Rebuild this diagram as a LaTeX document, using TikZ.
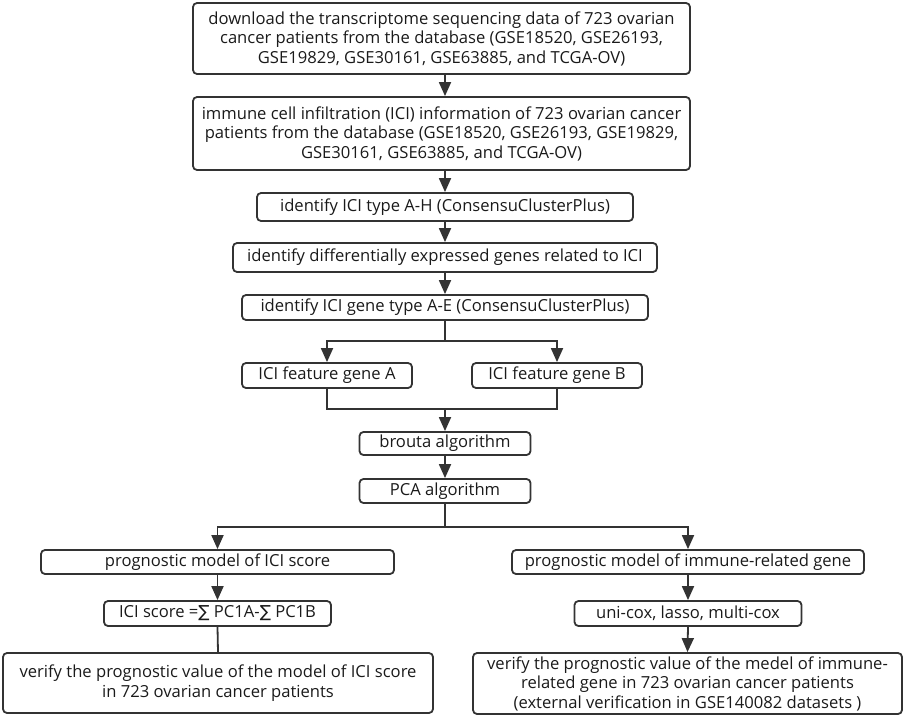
\documentclass[tikz,border=0pt]{standalone}
\usepackage{fontspec}
\setmainfont{Open Sans}
\newfontfamily\symf{DejaVu Sans}
\usetikzlibrary{arrows.meta}
\definecolor{ln}{HTML}{333333}
\definecolor{tx}{HTML}{1A1A1A}
\tikzset{
  box/.style={draw=ln, line width=1.8pt, rounded corners=4pt, inner sep=0pt, align=center,
    font=\fontsize{16.6}{19.5}\selectfont, text=tx},
  conn/.style={draw=ln, line width=1.8pt},
  arr/.style={conn, -{Triangle[length=14pt, width=12pt]}}
}
\begin{document}
\begin{tikzpicture}[x=1pt, y=-1pt]
\useasboundingbox (0,0) rectangle (906,717);
\node[box, minimum width=497pt, minimum height=71pt] (b1) at (441.5,38.5)
  {download the transcriptome sequencing data of 723 ovarian\\cancer patients from the database (GSE18520, GSE26193,\\GSE19829, GSE30161, GSE63885, and TCGA-OV)};
\node[box, minimum width=497pt, minimum height=73pt] (b2) at (441.5,133.5)
  {immune cell infiltration (ICI) information of 723 ovarian cancer\\patients from the database (GSE18520, GSE26193, GSE19829,\\GSE30161, GSE63885, and TCGA-OV)};
\node[box, minimum width=376pt, minimum height=28pt] (b3) at (445,207) {identify ICI type A-H (ConsensuClusterPlus)};
\node[box, minimum width=424pt, minimum height=29pt] (b4) at (445,257.5) {identify differentially expressed genes related to ICI};
\node[box, minimum width=406pt, minimum height=25pt] (b5) at (445,307.5) {identify ICI gene type A-E (ConsensuClusterPlus)};
\node[box, minimum width=170pt, minimum height=25pt] (bA) at (327,375.5) {ICI feature gene A};
\node[box, minimum width=170pt, minimum height=25pt] (bB) at (557,375.5) {ICI feature gene B};
\node[box, minimum width=171pt, minimum height=23pt] (br) at (445,443.5) {brouta algorithm};
\node[box, minimum width=171pt, minimum height=24pt] (pca) at (445,491) {PCA algorithm};
\node[box, minimum width=353pt, minimum height=24pt] (pl) at (217.5,562) {prognostic model of ICI score};
\node[box, minimum width=227pt, minimum height=25pt] (sl) at (217.5,613.5) {ICI score ={\symf ∑} PC1A-{\symf ∑} PC1B};
\node[box, minimum width=430pt, minimum height=60pt] (vl) at (218,683)
  {verify the prognostic value of the model of ICI score\\in 723 ovarian cancer patients};
\node[box, minimum width=352pt, minimum height=24pt] (pr) at (688,562) {prognostic model of immune-related gene};
\node[box, minimum width=227pt, minimum height=25pt] (ur) at (688,613.5) {uni-cox, lasso, multi-cox};
\node[box, minimum width=429pt, minimum height=61pt] (vr) at (687.5,683.5)
  {verify the prognostic value of the medel of immune-\\related gene in 723 ovarian cancer patients\\(external verification in GSE140082 datasets )};
\coordinate (col) at (445,0);
\coordinate (s1) at (445,341);
\coordinate (m1) at (445,409);
\coordinate (s2) at (445,527);
\draw[arr] (b1.south -| col) -- (b2.north -| col);
\draw[arr] (b2.south -| col) -- (b3.north);
\draw[arr] (b3.south) -- (b4.north);
\draw[arr] (b4.south) -- (b5.north);
\draw[conn] (b5.south) -- (s1);
\draw[arr] (s1) -| (bA.north);
\draw[arr] (s1) -| (bB.north);
\draw[conn] (bA.south) |- (m1);
\draw[conn] (bB.south) |- (m1);
\draw[arr] (m1) -- (br.north);
\draw[arr] (br.south) -- (pca.north);
\draw[conn] (pca.south) -- (s2);
\draw[arr] (s2) -| (pl.north);
\draw[arr] (s2) -| (pr.north);
\draw[arr] (pl.south) -- (sl.north);
\draw[conn] (sl.south) -- (vl.north);
\draw[arr] (pr.south) -- (ur.north);
\draw[arr] (ur.south) -- (vr.north);
\end{tikzpicture}
\end{document}
